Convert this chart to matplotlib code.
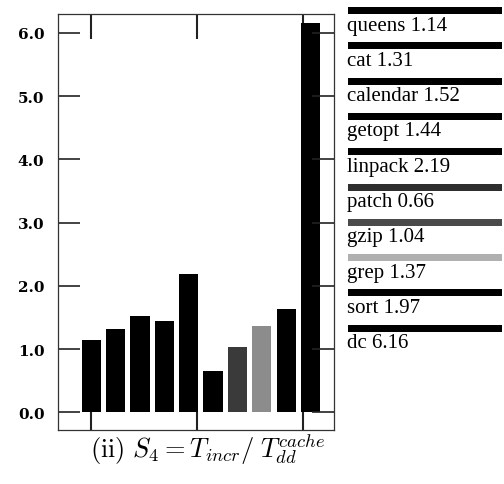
import matplotlib
matplotlib.use("Agg")
import matplotlib.pyplot as plt
from matplotlib.patches import Rectangle

# ---- data ----
programs = ["queens", "cat", "calendar", "getopt", "linpack",
            "patch", "gzip", "grep", "sort", "dc"]
bar_heights = [1.14, 1.31, 1.52, 1.44, 2.19, 0.66, 1.04, 1.37, 1.63, 6.16]
legend_values = ["1.14", "1.31", "1.52", "1.44", "2.19",
                 "0.66", "1.04", "1.37", "1.97", "6.16"]
bar_colors = ["#000000", "#000000", "#000000", "#000000", "#000000",
              "#000000", "#3a3a3a", "#8c8c8c", "#000000", "#000000"]
bar_hatches = [None, None, None, None, None, None, ".....", "......", None, None]
legend_colors = ["#000000", "#000000", "#000000", "#000000", "#000000",
                 "#2e2e2e", "#4a4a4a", "#b0b0b0", "#000000", "#000000"]
yticks = [0.0, 1.0, 2.0, 3.0, 4.0, 5.0, 6.0]
ytick_labels = ["0.0", "1.0", "2.0", "3.0", "4.0", "5.0", "6.0"]
xtick_pos = [0.0, 4.33, 8.67]

plt.rcParams["hatch.color"] = "#d8d8d8"
plt.rcParams["hatch.linewidth"] = 0.4

W, H = 504, 485
fig = plt.figure(figsize=(W / 100, H / 100), dpi=100)
ax = fig.add_axes([58.3 / W, 1 - 431 / H, (334.3 - 58.3) / W, (431 - 15) / H])

x = list(range(len(programs)))
bars = ax.bar(x, bar_heights, width=0.79, color=bar_colors, edgecolor="none")
for b, hatch in zip(bars, bar_hatches):
    if hatch:
        b.set_hatch(hatch)

ax.set_xlim(-1.355, 9.975)
ax.set_ylim(-0.28, 6.30)

ax.set_yticks(yticks)
ax.set_yticklabels(ytick_labels, fontfamily="DejaVu Serif",
                   fontweight="bold", fontsize=11)
ax.tick_params(axis="y", direction="in", length=16, width=1.2,
               left=True, right=True, pad=10, color="#222222")
ax.set_xticks(xtick_pos)
ax.set_xticklabels([])
ax.tick_params(axis="x", direction="in", length=13, width=1.5,
               bottom=True, top=False, color="#222222")
top = ax.secondary_xaxis("top")
top.set_xticks(xtick_pos)
top.set_xticklabels([])
top.tick_params(axis="x", direction="in", length=18, width=1.5, color="#222222")
top.spines["top"].set_visible(False)
for s in ax.spines.values():
    s.set_linewidth(0.9)
    s.set_color("#333333")

# ---- legend on the right ----
y0 = 8.0
step = 35.3
for i, (name, val, col) in enumerate(zip(programs, legend_values, legend_colors)):
    ytop = y0 + i * step
    fig.patches.append(Rectangle((348 / W, 1 - (ytop + 7) / H), (502 - 348) / W,
                                 7 / H, transform=fig.transFigure,
                                 facecolor=col, edgecolor="none"))
    fig.text(347 / W, 1 - (ytop + 22.5) / H, f"{name} {val}",
             fontfamily="Liberation Serif", fontsize=15,
             ha="left", va="baseline", color="black")

# ---- caption ----
fig.text(208 / W, 1 - 458 / H,
         r"$\mathrm{(ii)}\ S_4 = T_{incr}/\;T_{dd}^{cache}$",
         fontsize=19, ha="center", va="baseline", math_fontfamily="cm")

fig.savefig("out.png", dpi=100)
